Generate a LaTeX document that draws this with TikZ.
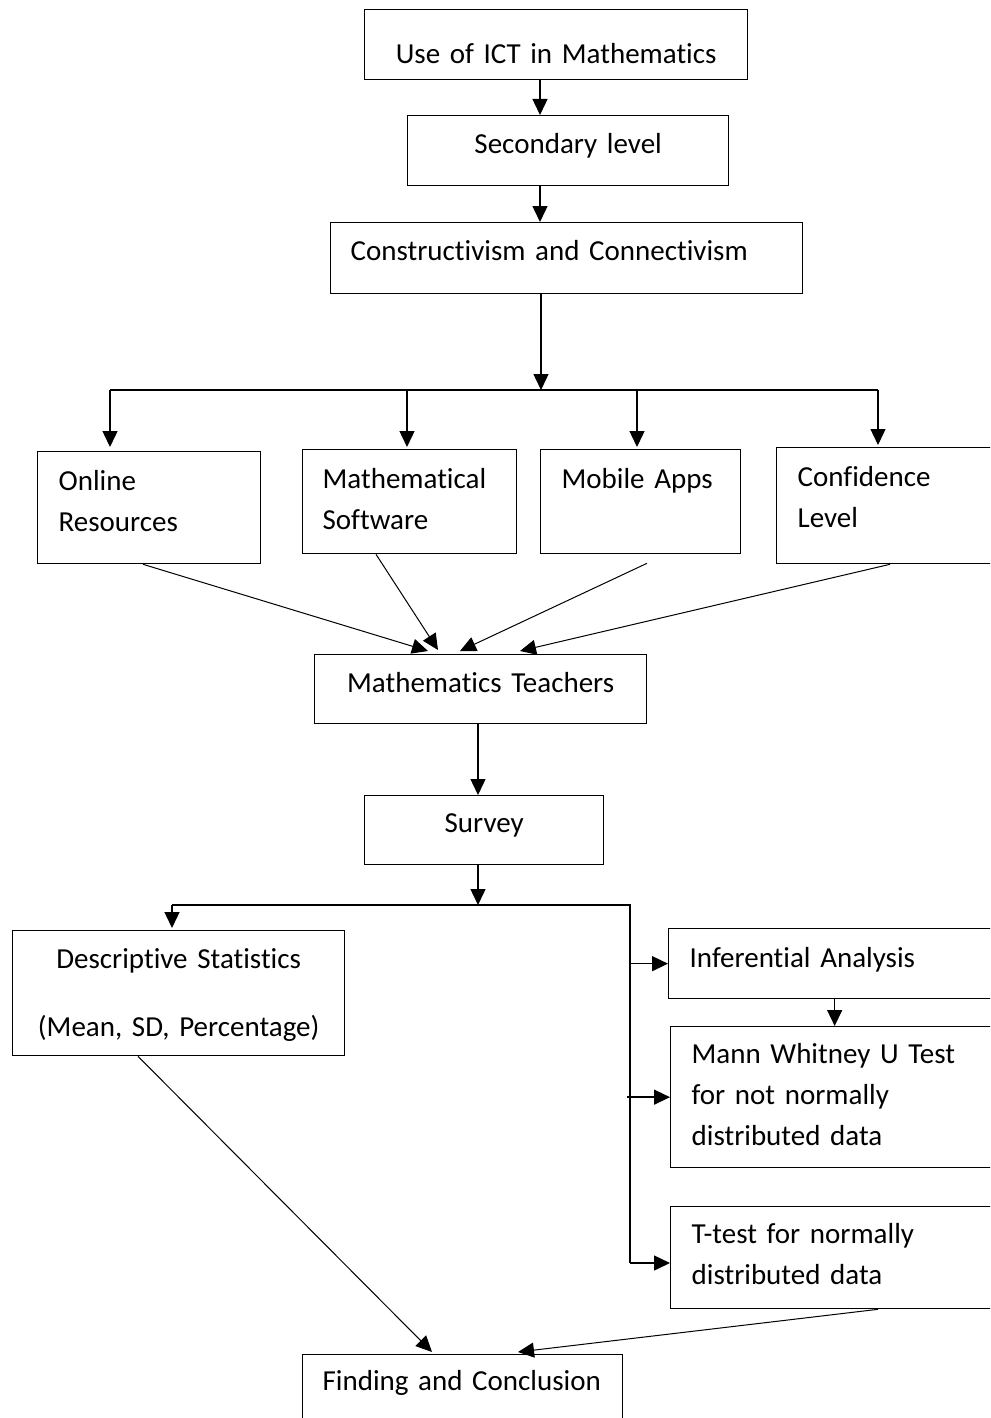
\documentclass[tikz,border=0pt]{standalone}
\usepackage{fontspec}
\setmainfont{Carlito}
\newfontfamily\boxfont{Carlito}[RawFeature={-liga;-clig;-calt;-dlig}]
\usetikzlibrary{arrows.meta,positioning}

\begin{document}
\begin{tikzpicture}[x=0.5pt,y=-0.5pt,
      flowbox/.style={draw,line width=0.65pt,anchor=north west,inner ysep=0pt,
        font=\boxfont\fontsize{14.5pt}{20.5pt}\selectfont},
      lefttext/.style={align=left},
      midtext/.style={align=center,inner xsep=0pt},
      arr/.style={-{Triangle[length=8pt,width=7.5pt]},line width=0.7pt},
      slant/.style={-{Triangle[length=8pt,width=7.5pt]},line width=0.5pt},
      link/.style={line width=0.7pt}]
      \useasboundingbox (0,0) rectangle (990,1418);
      \clip (0,0) rectangle (990,1418);
      % main column
      \node[flowbox,midtext,text width=191.5pt,text height=27pt,text depth=8pt] (ict) at (364,9) {Use of ICT in Mathematics};
      \node[flowbox,midtext,text width=160.5pt,text height=19pt,text depth=16pt] (sec) at (407,115) {Secondary level};
      \node[flowbox,lefttext,inner xsep=10pt,text width=216pt,text height=19pt,text depth=16.5pt] (theory) at (330,222) {Constructivism and Connectivism};
      % four areas
      \node[flowbox,lefttext,inner xsep=10.5pt,text width=90.5pt,text height=19.5pt,text depth=36.5pt] (online) at (37,451) {Online\\Resources};
      \node[flowbox,lefttext,inner xsep=10pt,text width=87pt,text height=19.5pt,text depth=32.5pt] (mathsw) at (302,449) {Mathematical\\Software};
      \node[flowbox,lefttext,inner xsep=10.5pt,text width=79pt,text height=19.5pt,text depth=32.5pt] (mobile) at (540,449) {Mobile Apps};
      \node[flowbox,lefttext,inner xsep=10.5pt,text width=96pt,text height=19.5pt,text depth=38.5pt] (confid) at (776,447) {Confidence\\Level};
      \node[flowbox,midtext,text width=166pt,text height=19pt,text depth=15.5pt] (teachers) at (314,654) {Mathematics Teachers};
      \node[flowbox,midtext,text width=119.5pt,text height=18.5pt,text depth=16pt] (survey) at (364,795) {Survey};
      % analysis
      \node[flowbox,midtext,text width=166pt,text height=19pt,text depth=43.5pt] (descr) at (12,930) {Descriptive Statistics\\[13.5pt](Mean, SD, Percentage)};
      \node[flowbox,lefttext,inner xsep=10.5pt,text width=150pt,text height=19.5pt,text depth=15.5pt] (infer) at (668,928) {Inferential Analysis};
      \node[flowbox,lefttext,inner xsep=10.5pt,text width=149pt,text height=18.5pt,text depth=52pt] (mann) at (670,1026) {Mann Whitney U Test\\for not normally\\distributed data};
      \node[flowbox,lefttext,inner xsep=10.5pt,text width=149pt,text height=18.5pt,text depth=32.5pt] (ttest) at (670,1206) {T-test for normally\\distributed data};
      \node[flowbox,lefttext,inner xsep=10pt,text width=140pt,text height=18pt,text depth=25pt] (finding) at (302,1354) {Finding and Conclusion};
      % branch points
      \coordinate (spine) at (540,0);
      \coordinate (split) at (541,390);
      \coordinate (b1) at (110,390);
      \coordinate (b2) at (407,390);
      \coordinate (b3) at (637,390);
      \coordinate (b4) at (878,390);
      \coordinate (split2) at (478,905);
      \coordinate (dl) at (172,905);
      \coordinate (dr) at (630,905);
      \coordinate (dbot) at (630,1263);
      % connectors
      \draw[arr] (ict.south -| spine) -- (sec.north -| spine);
      \draw[arr] (sec.south -| spine) -- (theory.north -| spine);
      \draw[arr] (theory.south -| split) -- (split);
      \draw[link] (b1) -- (b4);
      \draw[arr,shorten >=2pt] (b1) -- (online.north -| b1);
      \draw[arr,shorten >=1pt] (b2) -- (mathsw.north -| b2);
      \draw[arr,shorten >=1pt] (b3) -- (mobile.north -| b3);
      \draw[arr,shorten >=1pt] (b4) -- (confid.north -| b4);
      \draw[slant] ([xshift=53pt]online.south west) -- ([xshift=57pt,yshift=1.5pt]teachers.north west);
      \draw[slant] ([xshift=37pt]mathsw.south west) -- ([xshift=62pt,yshift=2pt]teachers.north west);
      \draw[slant] ([xshift=53.5pt,yshift=-4.5pt]mobile.south west) -- ([xshift=73pt,yshift=1.5pt]teachers.north west);
      \draw[slant] ([xshift=57pt]confid.south west) -- ([xshift=103pt,yshift=1.5pt]teachers.north west);
      \draw[arr] (teachers.south -| split2) -- (survey.north -| split2);
      \draw[arr] (survey.south -| split2) -- (split2);
      \draw[link] (dl) -- (dr) -- (dbot);
      \draw[arr,shorten >=1pt] (dl) -- (descr.north -| dl);
      \draw[arr] (dr |- infer.west) -- (infer.west);
      \draw[arr] ([xshift=-1.5pt]dr |- mann.west) -- (mann.west);
      \draw[arr] (dbot) -- (ttest.west |- dbot);
      \draw[arr] ([xshift=-2.5pt]infer.south) -- ([xshift=-2.5pt]infer.south |- mann.north);
      \draw[slant] ([xshift=63pt]descr.south west) -- ([xshift=65pt,yshift=1pt]finding.north west);
      \draw[slant] ([xshift=104pt]ttest.south west) -- ([xshift=108pt,yshift=1pt]finding.north west);
\end{tikzpicture}
\end{document}
